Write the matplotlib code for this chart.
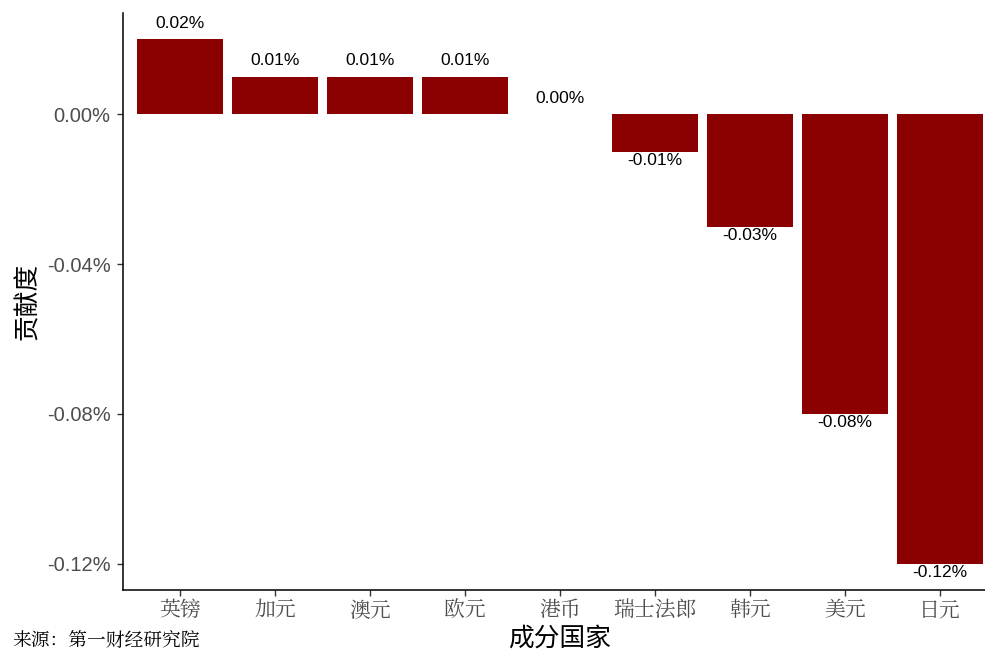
import numpy as np
import matplotlib
matplotlib.use('Agg')
import matplotlib.pyplot as plt

plt.rcParams['font.family'] = ['Liberation Sans', 'Noto Sans CJK SC', 'DejaVu Sans']

currencies = ['英镑', '加元', '澳元', '欧元', '港币', '瑞士法郎', '韩元', '美元', '日元']
contrib = [0.02, 0.01, 0.01, 0.01, 0.00, -0.01, -0.03, -0.08, -0.12]
yticks = [0.0, -0.04, -0.08, -0.12]

W, H = 985, 652
fig = plt.figure(figsize=(W / 100, H / 100), dpi=100)
left, right, top, bottom = 123, 997, 13, 590
ax = fig.add_axes([left / W, 1 - bottom / H, (right - left) / W, (bottom - top) / H])

x = np.arange(len(currencies))
ax.bar(x, contrib, width=0.9, color='#8B0000')

for xi, v in zip(x, contrib):
    if v >= 0:
        ax.annotate('{:.2f}%'.format(v), (xi, v), xytext=(0, 6), textcoords='offset points',
                    ha='center', va='bottom', fontsize=12.5, color='black')
    else:
        ax.annotate('{:.2f}%'.format(v), (xi, v), xytext=(0, -1), textcoords='offset points',
                    ha='center', va='top', fontsize=12.5, color='black')

rng = max(contrib) - min(contrib)
ax.set_ylim(min(contrib) - 0.05 * rng, max(contrib) + 0.05 * rng)
ax.set_xlim(-0.6, len(currencies) - 0.4)

ax.set_yticks(yticks)
ax.set_yticklabels(['{:.2f}%'.format(t) for t in yticks])
ax.set_xticks(x)
ax.set_xticklabels(currencies, family=['Noto Serif CJK SC', 'Noto Sans CJK SC'])

ax.tick_params(axis='both', colors='#333333', labelcolor='#4D4D4D', length=4, width=1)
ax.tick_params(axis='y', labelsize=14.5, pad=5)
ax.tick_params(axis='x', labelsize=15, pad=3)

for s in ['top', 'right']:
    ax.spines[s].set_visible(False)
for s in ['left', 'bottom']:
    ax.spines[s].set_linewidth(1.1)
    ax.spines[s].set_color('black')

ax.set_xlabel('成分国家', fontsize=18.5, family=['Noto Sans CJK SC'], labelpad=3)
ax.set_ylabel('贡献度', fontsize=18.5, family=['Noto Sans CJK SC'], labelpad=4)

fig.text(12 / W, 1 - 641 / H, '来源：第一财经研究院', fontsize=13.5, va='center', ha='left',
         family=['Noto Serif CJK SC', 'Noto Sans CJK SC'])

fig.savefig('out.png', dpi=100, facecolor='white')
